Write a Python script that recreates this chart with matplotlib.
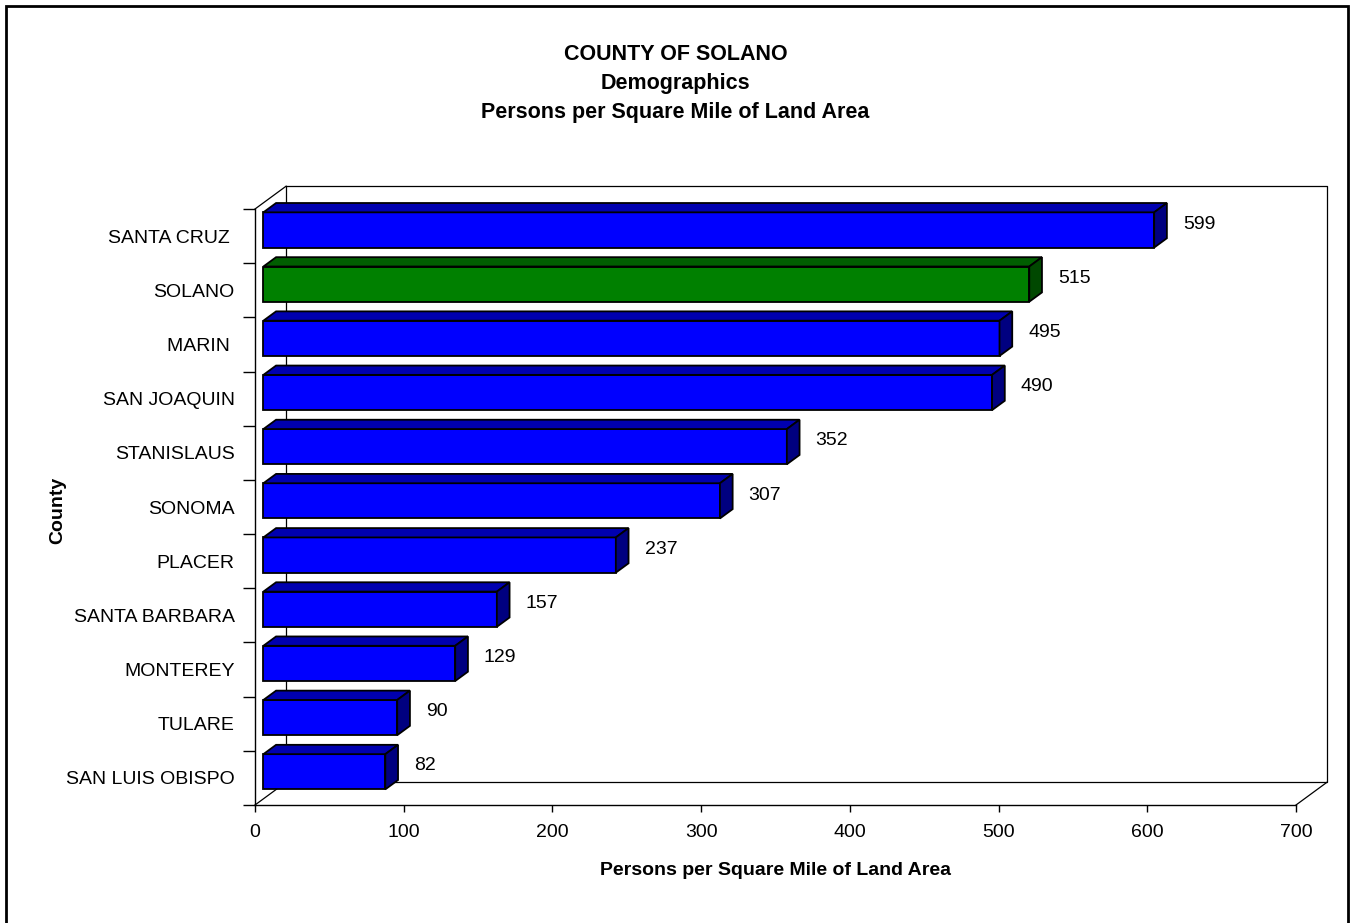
import matplotlib
matplotlib.use('Agg')
import matplotlib.pyplot as plt
from matplotlib.patches import Polygon, Rectangle

plt.rcParams['font.family'] = ['Liberation Sans', 'DejaVu Sans']

# Data, top row first as in the chart
counties = ['SANTA CRUZ ', 'SOLANO', 'MARIN ', 'SAN JOAQUIN', 'STANISLAUS', 'SONOMA',
            'PLACER', 'SANTA BARBARA', 'MONTEREY', 'TULARE', 'SAN LUIS OBISPO']
density = [599, 515, 495, 490, 352, 307, 237, 157, 129, 90, 82]
highlight = 'SOLANO'
x_ticks = [0, 100, 200, 300, 400, 500, 600, 700]
title_lines = ['COUNTY OF SOLANO', 'Demographics', 'Persons per Square Mile of Land Area']

# 3D look: depth offset of the back wall in data units
DX = 20.85   # along x
DY = 0.42    # along category axis
D0, D1 = 0.27, 0.68   # bar front / back depth
HALF = 0.325          # half bar height

BLUE = ('#0000FF', '#0000B0', '#000080')
GREEN = ('#008000', '#005E00', '#004800')

W, H = 1351, 923
fig = plt.figure(figsize=(W / 100, H / 100), dpi=100)
ax = fig.add_axes([255 / W, (H - 805) / H, (1296 - 255) / W, (805 - 209) / H])
ax.set_xlim(0, 700)
ax.set_ylim(-0.5, len(counties) - 0.5)
ax.set_facecolor('none')

n = len(counties)
ypos = [n - 1 - i for i in range(n)]
ytop = n - 0.5

# back wall and floor edges
wall_kw = dict(color='black', lw=0.9, clip_on=False, zorder=1)
ax.plot([DX, 700 + DX, 700 + DX, DX, DX],
        [ytop + DY, ytop + DY, -0.5 + DY, -0.5 + DY, ytop + DY], **wall_kw)
ax.plot([0, DX], [ytop, ytop + DY], **wall_kw)
ax.plot([0, DX], [-0.5, -0.5 + DY], **wall_kw)
ax.plot([700, 700 + DX], [-0.5, -0.5 + DY], **wall_kw)


def draw_bar(y, v, colors):
    front, top, side = colors
    xf, xb = D0 * DX, D1 * DX
    lo, hi = y - HALF, y + HALF
    faces = [
        ([(xf, lo + D0 * DY), (v + xf, lo + D0 * DY), (v + xf, hi + D0 * DY), (xf, hi + D0 * DY)], front),
        ([(xf, hi + D0 * DY), (v + xf, hi + D0 * DY), (v + xb, hi + D1 * DY), (xb, hi + D1 * DY)], top),
        ([(v + xf, lo + D0 * DY), (v + xb, lo + D1 * DY), (v + xb, hi + D1 * DY), (v + xf, hi + D0 * DY)], side),
    ]
    for pts, c in faces:
        ax.add_patch(Polygon(pts, closed=True, facecolor=c, edgecolor='black',
                             lw=1.3, clip_on=False, zorder=3))


for name, y, v in zip(counties, ypos, density):
    draw_bar(y, v, GREEN if name.strip() == highlight else BLUE)
    ax.annotate(str(v), xy=(v + D1 * DX, y + 0.22), xytext=(11.5, 0),
                textcoords='offset points', ha='left', va='center', fontsize=14,
                annotation_clip=False)

# axes
for s in ['top', 'right']:
    ax.spines[s].set_visible(False)
for s in ['left', 'bottom']:
    ax.spines[s].set_linewidth(1.0)
ax.set_xticks(x_ticks)
ax.set_xticklabels([str(t) for t in x_ticks], fontsize=14)
ax.tick_params(axis='x', length=5, width=1, pad=9)
ax.set_yticks(ypos)
ax.set_yticklabels(counties, fontsize=14)
ax.set_yticks([i - 0.5 for i in range(n + 1)], minor=True)
ax.tick_params(axis='y', which='major', length=0, pad=14.5)
ax.tick_params(axis='y', which='minor', length=8.5, width=1)
ax.set_xlabel('Persons per Square Mile of Land Area', fontsize=14,
              fontweight='bold', labelpad=15)
fig.text(58 / W, 1 - 510 / H, 'County', rotation=90, ha='center', va='center',
         fontsize=14, fontweight='bold')

for line, base in zip(title_lines, [60, 89, 118]):
    fig.text(0.5, 1 - base / H, line, ha='center', va='baseline',
             fontsize=15.5, fontweight='bold')

# outer border
fig.add_artist(Rectangle((6 / W, -0.05), (1348 - 6) / W, 1.05 - 6 / H,
                         transform=fig.transFigure, fill=False,
                         edgecolor='black', lw=2))

fig.savefig('out.png', dpi=100)
